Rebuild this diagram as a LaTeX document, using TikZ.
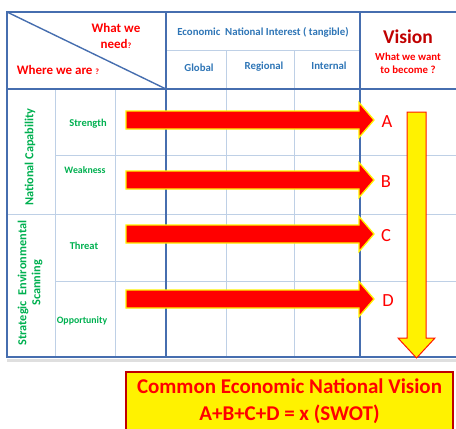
\documentclass[tikz,border=0pt]{standalone}
\usepackage{fontspec}
\setmainfont{Carlito}
\definecolor{gridd}{RGB}{70,110,175}
\definecolor{gridl}{RGB}{190,208,230}
\definecolor{hblue}{RGB}{46,117,182}
\definecolor{lgreen}{RGB}{0,176,80}
\definecolor{dred}{RGB}{192,0,0}
\begin{document}
\begin{tikzpicture}[x=1pt,y=-1pt,
  dline/.style={draw=gridd,line width=1.6pt},
  lline/.style={draw=gridl,line width=1pt},
  hdr/.style={text=hblue,font=\bfseries\fontsize{10.8}{12}\selectfont,inner sep=0pt},
  lbl/.style={text=lgreen,font=\bfseries\fontsize{10.5}{12}\selectfont,inner sep=0pt},
  cat/.style={text=lgreen,font=\bfseries\fontsize{12.3}{14}\selectfont,inner sep=0pt,rotate=90,align=center},
  ltr/.style={text=red,font=\fontsize{18.5}{20}\selectfont,inner sep=0pt},
  redarrow/.style={fill=red,draw=yellow,line width=1.3pt,line join=miter},
  yelarrow/.style={fill=yellow,draw=red!80!orange,line width=1pt}]
\useasboundingbox (0,0) rectangle (456,429);
% shadow
\fill[gray!25] (7,359) rectangle (456,362);
% light grid
\draw[lline] (55,89) -- (55,357);
\draw[lline] (115,89) -- (115,357);
\draw[lline] (226,50) -- (226,357);
\draw[lline] (294,50) -- (294,357);
\draw[lline] (166,50) -- (360,50);
\draw[lline] (55,155) -- (456,155);
\draw[lline] (7,214) -- (456,214);
\draw[lline] (55,281) -- (456,281);
% dark grid
\draw[dline] (456,12) -- (7,12) -- (7,357) -- (456,357);
\draw[dline] (7,89) -- (456,89);
\draw[dline] (166,12) -- (166,357);
\draw[dline] (360,12) -- (360,357);
\draw[gridd,line width=1.4pt] (7,12) -- (166,89);
% header texts
\node[text=red,font=\bfseries\fontsize{13}{16}\selectfont,align=center,inner sep=0pt] (need) at (116,36) {What we\\need{\fontsize{8}{8}\selectfont ?}};
\node[text=red,font=\bfseries\fontsize{13}{14}\selectfont,inner sep=0pt] (where) at (58,70) {Where we are {\fontsize{8}{8}\selectfont ?}};
\node[hdr] (eni) at (263,32) {Economic~ National Interest ( tangible)};
\node[hdr] (glob) at (199,68) {Global};
\node[hdr] (reg) at (264,67) {Regional};
\node[hdr] (int) at (329,66) {Internal};
\node[text=dred,font=\bfseries\fontsize{19.5}{20}\selectfont,inner sep=0pt] (vision) at (408,37) {Vision};
\node[text=red,font=\bfseries\fontsize{10.8}{13}\selectfont,align=center,inner sep=0pt] (want) at (408,63) {What we want\\to become ?};
% left labels
\node[cat] (natcap) at (30,157) {National Capability};
\node[cat] (ses) at (30,283) {Strategic~ Environmental\\Scanning};
\node[lbl] (str) at (88,124) {Strength};
\node[lbl,font=\bfseries\fontsize{9.8}{11}\selectfont] (weak) at (85,170) {Weakness};
\node[lbl] (thr) at (84,246) {Threat};
\node[lbl,font=\bfseries\fontsize{9.8}{11}\selectfont] (opp) at (82,321) {Opportunity};
% red arrows and letters
\foreach \c/\l/\lx in {120/A/387,180/B/386,234/C/386,299/D/388}{
  \draw[redarrow] (126,\c-9) -- (359,\c-9) -- (359,\c-17.5) -- (374,\c)
     -- (359,\c+17.5) -- (359,\c+9) -- (126,\c+9) -- cycle;
  \node[ltr] (ltr\l) at (\lx,\c+2) {\l};
}
% yellow down arrow
\draw[yelarrow] (407,112) -- (426,112) -- (426,338) -- (435,338) -- (416.5,358)
  -- (398,338) -- (407,338) -- cycle;
% bottom box
\node[draw=dred,fill=yellow,line width=1.3pt,minimum width=327,minimum height=64,inner sep=0pt] (box) at (289.5,404) {};
\node[text=red,font=\bfseries\fontsize{21}{27}\selectfont,align=center,inner sep=0pt] (boxtext) at (289.5,401) {Common Economic National Vision\\A+B+C+D = x (SWOT)};
\end{tikzpicture}
\end{document}
